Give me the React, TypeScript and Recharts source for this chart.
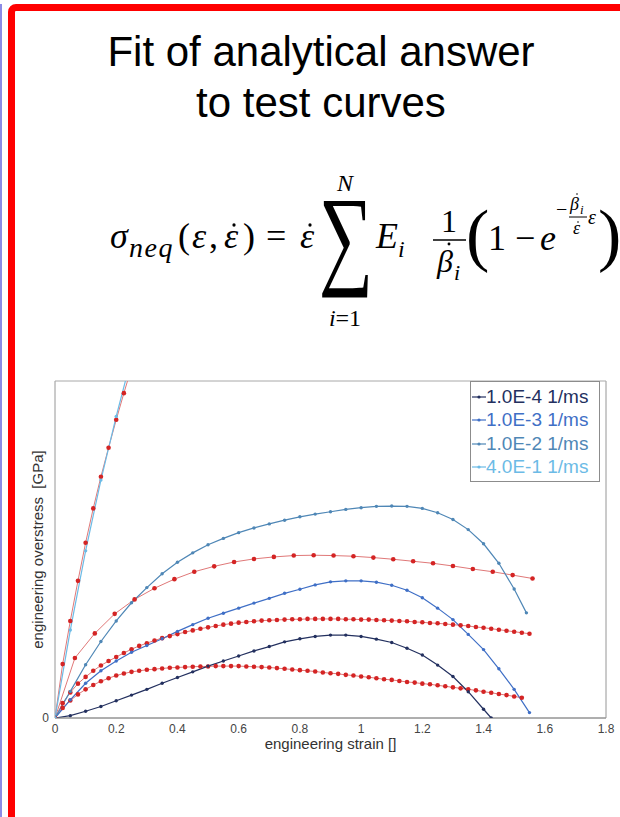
import { LineChart, Line, XAxis, YAxis, CartesianGrid, ReferenceArea, Legend } from 'recharts';

// measured strain stations for the test curves (every 0.05)
const STRAIN_TEST = [0, 0.05, 0.1, 0.15, 0.2, 0.25, 0.3, 0.35, 0.4, 0.45, 0.5, 0.55, 0.6, 0.65, 0.7, 0.75, 0.8, 0.85, 0.9, 0.95, 1, 1.05, 1.1, 1.15, 1.2, 1.25, 1.3, 1.35, 1.4, 1.45, 1.5, 1.55];
const STRAIN_1E4 = [0, 0.05, 0.1, 0.15, 0.2, 0.25, 0.3, 0.35, 0.4, 0.45, 0.5, 0.55, 0.6, 0.65, 0.7, 0.75, 0.8, 0.85, 0.9, 0.95, 1, 1.05, 1.1, 1.15, 1.2, 1.25, 1.3, 1.35, 1.4, 1.425];
const STRAIN_1E2 = [0, 0.05, 0.1, 0.15, 0.2, 0.25, 0.3, 0.35, 0.4, 0.45, 0.5, 0.55, 0.6, 0.65, 0.7, 0.75, 0.8, 0.85, 0.9, 0.95, 1, 1.05, 1.1, 1.15, 1.2, 1.25, 1.3, 1.35, 1.4, 1.45, 1.5, 1.54];
const STRAIN_4E1 = [0, 0.05, 0.1, 0.15, 0.2, 0.25];

// test overstress (normalised to the plot height)
const TEST_1E4 = [0, 0.007, 0.02, 0.034, 0.051, 0.068, 0.085, 0.103, 0.12, 0.137, 0.154, 0.169, 0.184, 0.199, 0.212, 0.226, 0.235, 0.242, 0.246, 0.246, 0.242, 0.234, 0.224, 0.207, 0.187, 0.157, 0.123, 0.078, 0.026, 0];
const TEST_1E3 = [0, 0.054, 0.103, 0.14, 0.169, 0.195, 0.215, 0.235, 0.257, 0.277, 0.296, 0.311, 0.326, 0.341, 0.355, 0.37, 0.382, 0.395, 0.404, 0.407, 0.407, 0.403, 0.394, 0.379, 0.357, 0.326, 0.292, 0.248, 0.203, 0.146, 0.085, 0.016];
const TEST_1E2 = [0, 0.079, 0.158, 0.227, 0.288, 0.342, 0.387, 0.428, 0.462, 0.49, 0.514, 0.533, 0.55, 0.564, 0.576, 0.587, 0.597, 0.605, 0.612, 0.619, 0.624, 0.628, 0.629, 0.628, 0.622, 0.609, 0.589, 0.559, 0.517, 0.459, 0.383, 0.312];
const TEST_4E1 = [0, 0.261, 0.496, 0.706, 0.895, 1.07];

// analytical fits
const STRAIN_DENSE = [0, 0.025, 0.05, 0.075, 0.1, 0.125, 0.15, 0.175, 0.2, 0.225, 0.25, 0.275, 0.3, 0.325, 0.35, 0.375, 0.4, 0.425, 0.45, 0.475, 0.5, 0.525, 0.55, 0.575, 0.6, 0.625, 0.65, 0.675, 0.7, 0.725, 0.75, 0.775, 0.8, 0.825, 0.85, 0.875, 0.9, 0.925, 0.95, 0.975, 1, 1.025, 1.05, 1.075, 1.1, 1.125, 1.15, 1.175, 1.2, 1.225, 1.25, 1.275, 1.3, 1.325, 1.35, 1.375, 1.4, 1.425, 1.45, 1.475, 1.5, 1.525, 1.55];
const FIT_1E4 = [0, 0.03, 0.052, 0.07, 0.085, 0.098, 0.109, 0.118, 0.126, 0.132, 0.137, 0.14, 0.143, 0.145, 0.147, 0.149, 0.15, 0.151, 0.152, 0.153, 0.153, 0.154, 0.154, 0.154, 0.154, 0.153, 0.152, 0.151, 0.15, 0.148, 0.146, 0.144, 0.142, 0.14, 0.138, 0.135, 0.133, 0.131, 0.128, 0.126, 0.123, 0.121, 0.118, 0.115, 0.113, 0.11, 0.107, 0.105, 0.102, 0.1, 0.097, 0.094, 0.091, 0.088, 0.085, 0.082, 0.078, 0.075, 0.071, 0.068, 0.064, 0.06];
const FIT_1E3 = [0, 0.044, 0.076, 0.102, 0.122, 0.14, 0.156, 0.169, 0.181, 0.193, 0.204, 0.214, 0.222, 0.23, 0.237, 0.243, 0.249, 0.255, 0.26, 0.265, 0.269, 0.273, 0.277, 0.28, 0.283, 0.285, 0.287, 0.289, 0.29, 0.291, 0.292, 0.293, 0.293, 0.294, 0.294, 0.294, 0.294, 0.294, 0.293, 0.293, 0.292, 0.292, 0.291, 0.29, 0.289, 0.288, 0.287, 0.285, 0.284, 0.282, 0.281, 0.279, 0.277, 0.275, 0.273, 0.27, 0.268, 0.265, 0.262, 0.259, 0.256, 0.253, 0.25];
const STRAIN_FIT_1E2 = [0, 0.065, 0.13, 0.195, 0.26, 0.325, 0.39, 0.455, 0.52, 0.585, 0.65, 0.715, 0.78, 0.845, 0.91, 0.975, 1.04, 1.105, 1.17, 1.235, 1.3, 1.365, 1.43, 1.495, 1.56];
const FIT_1E2 = [0, 0.178, 0.251, 0.309, 0.352, 0.385, 0.412, 0.434, 0.45, 0.463, 0.472, 0.478, 0.482, 0.483, 0.482, 0.48, 0.476, 0.471, 0.465, 0.459, 0.451, 0.442, 0.434, 0.424, 0.414];
const FIT_4E1 = [0, 0.16, 0.288, 0.407, 0.52, 0.622, 0.716, 0.802, 0.885, 0.964, 1.04];

const X_TICKS = [0, 0.2, 0.4, 0.6, 0.8, 1, 1.2, 1.4, 1.6, 1.8];
const GRID_X = [0.1, 0.2, 0.3, 0.4, 0.5, 0.6, 0.7, 0.8, 0.9, 1, 1.1, 1.2, 1.3, 1.4, 1.5, 1.6, 1.7];

const zip = (xs: number[], ys: number[]) => ys.map((y, i) => ({ x: xs[i], y }));

const NAVY = '#23305f';
const BLUE = '#3f6fc6';
const STEEL = '#4f87b6';
const LIGHT = '#6cbbe6';
const RED = '#d42424';
const RED_LINE = '#e07878';

const SANS = "'Liberation Sans', Arial, sans-serif";
const SERIF = "'Liberation Serif', 'DejaVu Serif', serif";

const tests = [
  { name: '1.0E-4 1/ms', color: NAVY, data: zip(STRAIN_1E4, TEST_1E4) },
  { name: '1.0E-3 1/ms', color: BLUE, data: zip(STRAIN_TEST, TEST_1E3) },
  { name: '1.0E-2 1/ms', color: STEEL, data: zip(STRAIN_1E2, TEST_1E2) },
  { name: '4.0E-1 1/ms', color: LIGHT, data: zip(STRAIN_4E1, TEST_4E1) },
];

const fits = [
  { key: 'fit-4', data: zip(STRAIN_DENSE, FIT_1E4) },
  { key: 'fit-3', data: zip(STRAIN_DENSE, FIT_1E3) },
  { key: 'fit-2', data: zip(STRAIN_FIT_1E2, FIT_1E2) },
  { key: 'fit-1', data: zip(STRAIN_DENSE, FIT_4E1) },
];

// legend only lists the measured rates, in their original order
const renderLegend = () => (
  <div style={{ border: '1px solid #8c8c8c', background: '#fff', padding: '3px 2px 2px 1px', boxSizing: 'border-box', width: 130 }}>
    {tests.map((t) => (
      <div key={t.name} style={{ display: 'flex', alignItems: 'center', height: 23.5 }}>
        <svg width={14} height={10} style={{ flex: 'none' }}>
          <line x1={0} y1={5} x2={14} y2={5} stroke={t.color} strokeWidth={1.2} />
          <circle cx={7} cy={5} r={1.6} fill={t.color} />
        </svg>
        <span style={{ fontFamily: SANS, fontSize: 19, color: t.color, lineHeight: '20px', whiteSpace: 'nowrap' }}>{t.name}</span>
      </div>
    ))}
  </div>
);

// italic glyph with an over-dot (time derivative)
function Dotted({ x, y, size, ch, dotX, dotY }: { x: number; y: number; size: number; ch: string; dotX: number; dotY: number }) {
  return (
    <g>
      <text x={x} y={y} fontSize={size} fontStyle="italic">{ch}</text>
      <circle cx={x + dotX} cy={y - dotY} r={size / 22} fill="#000" />
    </g>
  );
}

function Formula() {
  return (
    <svg width={620} height={200} style={{ position: 'absolute', left: 0, top: 150 }} fontFamily={SERIF} fill="#000">
      <text x={110} y={98} fontSize={36} fontStyle="italic">σ</text>
      <text x={129} y={107} fontSize={28} fontStyle="italic" letterSpacing={1.5}>neq</text>
      <text x={178} y={98} fontSize={36}>(</text>
      <text x={192} y={98} fontSize={36} fontStyle="italic">ε</text>
      <text x={209} y={98} fontSize={36}>,</text>
      <Dotted x={224} y={98} size={36} ch="ε" dotX={10} dotY={23} />
      <text x={243} y={98} fontSize={36}>)</text>
      <text x={266} y={98} fontSize={36}>=</text>
      <Dotted x={300} y={98} size={36} ch="ε" dotX={10} dotY={23} />
      <text transform="translate(346,124) scale(0.83,1.21)" fontSize={92} textAnchor="middle">∑</text>
      <text x={345} y={41} fontSize={24} textAnchor="middle" fontStyle="italic">N</text>
      <text x={345} y={176} fontSize={24} textAnchor="middle"><tspan fontStyle="italic">i</tspan>=1</text>
      <text x={376} y={98} fontSize={36} fontStyle="italic">E</text>
      <text x={398} y={107} fontSize={24} fontStyle="italic">i</text>
      <text x={449} y={82} fontSize={32} textAnchor="middle">1</text>
      <line x1={433} y1={90} x2={466} y2={90} stroke="#000" strokeWidth={1.6} />
      <Dotted x={437} y={122} size={32} ch="β" dotX={12} dotY={28} />
      <text x={454} y={130} fontSize={22} fontStyle="italic">i</text>
      <text x={466} y={108} fontSize={70}>(</text>
      <text x={488} y={100} fontSize={36}>1 −</text>
      <text x={540} y={100} fontSize={36} fontStyle="italic">e</text>
      <text x={556} y={66} fontSize={20}>−</text>
      <Dotted x={570} y={60} size={18} ch="β" dotX={7} dotY={16} />
      <text x={580} y={64} fontSize={13} fontStyle="italic">i</text>
      <line x1={569} y1={67} x2={587} y2={67} stroke="#000" strokeWidth={1} />
      <Dotted x={573} y={84} size={18} ch="ε" dotX={5} dotY={12} />
      <text x={588} y={74} fontSize={20} fontStyle="italic">ε</text>
      <text x={598} y={108} fontSize={70}>)</text>
    </svg>
  );
}

export default function App() {
  return (
    <div style={{ position: 'absolute', left: 0, top: 0, width: 620, height: 817, overflow: 'hidden', background: '#fff' }}>
      <div style={{ position: 'absolute', left: 0, top: 4, width: 2, height: 813, background: '#8b8be6' }} />
      <div style={{ position: 'absolute', left: 8, top: 4, width: 660, height: 830, border: '7px solid #ff0000', borderRadius: 8, boxSizing: 'border-box' }} />
      <div style={{ position: 'absolute', left: 15, top: 26, width: 612, textAlign: 'center', fontFamily: SANS, fontSize: 42, lineHeight: '51px', color: '#000' }}>
        Fit of analytical answer<br />to test curves
      </div>
      <Formula />
      <div style={{ position: 'absolute', left: 0, top: 360 }}>
        <LineChart width={620} height={400} margin={{ top: 21, right: 14, left: 45, bottom: 12 }}>
          <XAxis xAxisId="grid" type="number" dataKey="x" domain={[0, 1.8]} ticks={GRID_X} hide />
          <CartesianGrid xAxisId="grid" horizontal={false} stroke="#dcdcdc" />
          <XAxis
            type="number"
            dataKey="x"
            domain={[0, 1.8]}
            ticks={X_TICKS}
            allowDataOverflow
            height={30}
            tickLine={false}
            tickSize={4}
            tickMargin={2}
            axisLine={{ stroke: '#8a8a8a' }}
            tick={{ fontSize: 12, fill: '#444', fontFamily: SANS }}
            label={{ value: 'engineering strain []', position: 'insideBottom', offset: -1, style: { fontSize: 15, fill: '#333', fontFamily: SANS } }}
          />
          <YAxis
            type="number"
            domain={[0, 1]}
            ticks={[0]}
            allowDataOverflow
            width={10}
            tickLine={false}
            tickSize={4}
            tickMargin={2}
            axisLine={false}
            tick={{ fontSize: 12, fill: '#444', fontFamily: SANS }}
            label={{ value: 'engineering overstress\u00a0\u00a0[GPa]', angle: -90, position: 'left', offset: 7, style: { textAnchor: 'middle', fontSize: 15, fill: '#333', fontFamily: SANS } }}
          />
          <ReferenceArea x1={0} x2={1.8} y1={0} y2={1} fill="none" stroke="#a8a8a8" strokeWidth={1} />
          {fits.map((f) => (
            <Line
              key={f.key}
              data={f.data}
              dataKey="y"
              stroke={RED_LINE}
              strokeWidth={1}
              dot={{ r: 2.3, fill: RED, stroke: RED, strokeWidth: 0 }}
              activeDot={false}
              legendType="none"
              isAnimationActive={false}
            />
          ))}
          {tests.map((t) => (
            <Line
              key={t.name}
              name={t.name}
              data={t.data}
              dataKey="y"
              stroke={t.color}
              strokeWidth={1.2}
              dot={{ r: 1.7, fill: t.color, stroke: t.color, strokeWidth: 0 }}
              activeDot={false}
              isAnimationActive={false}
            />
          ))}
          <Legend
            content={renderLegend}
            layout="horizontal"
            verticalAlign="middle"
            align="center"
            wrapperStyle={{ left: 470, top: 21, width: 130 }}
          />
        </LineChart>
      </div>
    </div>
  );
}
